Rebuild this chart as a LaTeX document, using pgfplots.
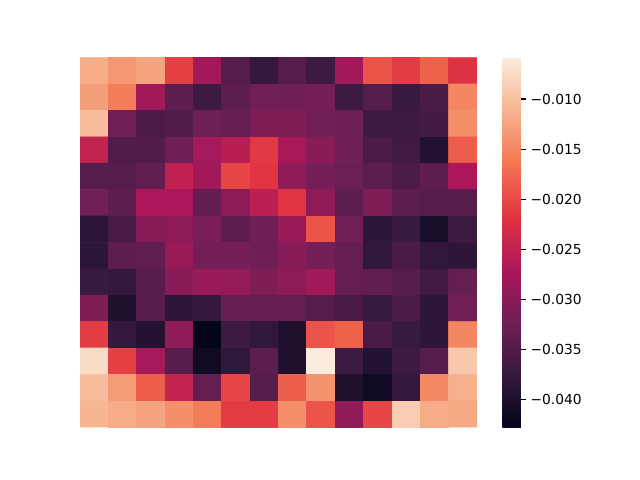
\documentclass[border=0pt]{standalone}
\usepackage{fontspec}
\setmainfont{DejaVu Sans}
\usepackage{pgfplots}
\pgfplotsset{compat=1.18}
\begin{document}
\begin{tikzpicture}
\path[use as bounding box] (0,0) rectangle (6.4in,4.8in);
\begin{axis}[
  at={(0.8in,0.528in)}, anchor=south west,
  scale only axis, width=3.968in, height=3.696in,
  hide axis, xmin=-0.5, xmax=13.5, ymin=-0.5, ymax=13.5, y dir=reverse,
  enlargelimits=false,
  colormap={rocket}{rgb255=(3,5,26) rgb255=(53,25,62) rgb255=(112,31,87) rgb255=(173,23,89) rgb255=(225,51,66) rgb255=(243,118,81) rgb255=(246,180,143) rgb255=(250,235,221)},
  point meta min=-0.04274, point meta max=-0.00587,
  colorbar,
  colorbar style={
    at={(parent axis.right of north east)}, anchor=north west,
    xshift=0.138in, width=0.184in, height=3.696in,
    hide axis=false,
    axis line style={draw=none},
    scaled y ticks=false,
    ytick={-0.040,-0.035,-0.030,-0.025,-0.020,-0.015,-0.010},
    yticklabels={−0.040,−0.035,−0.030,−0.025,−0.020,−0.015,−0.010},
    yticklabel style={font=\fontsize{10}{12}\selectfont},
    ytick pos=right, yticklabel pos=right,
    tick align=outside, major tick length=3.5pt,
    ytick style={black, line width=0.8pt},
  },
]
\addplot[matrix plot*, mesh/cols=14, point meta=explicit] table[meta=c, row sep=\\]{
x y c\\
0 0 -0.0118\\ 1 0 -0.0136\\ 2 0 -0.0125\\ 3 0 -0.0206\\ 4 0 -0.0280\\ 5 0 -0.0346\\ 6 0 -0.0376\\ 7 0 -0.0346\\ 8 0 -0.0368\\ 9 0 -0.0280\\ 10 0 -0.0191\\ 11 0 -0.0210\\ 12 0 -0.0180\\ 13 0 -0.0221\\
0 1 -0.0129\\ 1 1 -0.0158\\ 2 1 -0.0280\\ 3 1 -0.0339\\ 4 1 -0.0368\\ 5 1 -0.0339\\ 6 1 -0.0320\\ 7 1 -0.0324\\ 8 1 -0.0317\\ 9 1 -0.0368\\ 10 1 -0.0346\\ 11 1 -0.0372\\ 12 1 -0.0357\\ 13 1 -0.0151\\
0 2 -0.0103\\ 1 2 -0.0320\\ 2 2 -0.0354\\ 3 2 -0.0350\\ 4 2 -0.0324\\ 5 2 -0.0332\\ 6 2 -0.0309\\ 7 2 -0.0309\\ 8 2 -0.0320\\ 9 2 -0.0324\\ 10 2 -0.0368\\ 11 2 -0.0368\\ 12 2 -0.0361\\ 13 2 -0.0143\\
0 3 -0.0247\\ 1 3 -0.0350\\ 2 3 -0.0350\\ 3 3 -0.0324\\ 4 3 -0.0276\\ 5 3 -0.0258\\ 6 3 -0.0213\\ 7 3 -0.0272\\ 8 3 -0.0302\\ 9 3 -0.0324\\ 10 3 -0.0354\\ 11 3 -0.0365\\ 12 3 -0.0394\\ 13 3 -0.0184\\
0 4 -0.0346\\ 1 4 -0.0346\\ 2 4 -0.0335\\ 3 4 -0.0250\\ 4 4 -0.0280\\ 5 4 -0.0202\\ 6 4 -0.0217\\ 7 4 -0.0295\\ 8 4 -0.0317\\ 9 4 -0.0328\\ 10 4 -0.0342\\ 11 4 -0.0354\\ 12 4 -0.0339\\ 13 4 -0.0269\\
0 5 -0.0320\\ 1 5 -0.0339\\ 2 5 -0.0269\\ 3 5 -0.0269\\ 4 5 -0.0335\\ 5 5 -0.0298\\ 6 5 -0.0254\\ 7 5 -0.0217\\ 8 5 -0.0295\\ 9 5 -0.0339\\ 10 5 -0.0309\\ 11 5 -0.0339\\ 12 5 -0.0346\\ 13 5 -0.0346\\
0 6 -0.0383\\ 1 6 -0.0357\\ 2 6 -0.0302\\ 3 6 -0.0298\\ 4 6 -0.0313\\ 5 6 -0.0339\\ 6 6 -0.0324\\ 7 6 -0.0287\\ 8 6 -0.0191\\ 9 6 -0.0320\\ 10 6 -0.0383\\ 11 6 -0.0372\\ 12 6 -0.0405\\ 13 6 -0.0368\\
0 7 -0.0383\\ 1 7 -0.0339\\ 2 7 -0.0335\\ 3 7 -0.0287\\ 4 7 -0.0320\\ 5 7 -0.0317\\ 6 7 -0.0324\\ 7 7 -0.0302\\ 8 7 -0.0317\\ 9 7 -0.0332\\ 10 7 -0.0379\\ 11 7 -0.0357\\ 12 7 -0.0379\\ 13 7 -0.0383\\
0 8 -0.0372\\ 1 8 -0.0376\\ 2 8 -0.0346\\ 3 8 -0.0302\\ 4 8 -0.0287\\ 5 8 -0.0291\\ 6 8 -0.0309\\ 7 8 -0.0298\\ 8 8 -0.0280\\ 9 8 -0.0332\\ 10 8 -0.0335\\ 11 8 -0.0346\\ 12 8 -0.0365\\ 13 8 -0.0332\\
0 9 -0.0309\\ 1 9 -0.0398\\ 2 9 -0.0346\\ 3 9 -0.0383\\ 4 9 -0.0376\\ 5 9 -0.0332\\ 6 9 -0.0332\\ 7 9 -0.0332\\ 8 9 -0.0346\\ 9 9 -0.0357\\ 10 9 -0.0372\\ 11 9 -0.0354\\ 12 9 -0.0383\\ 13 9 -0.0320\\
0 10 -0.0210\\ 1 10 -0.0376\\ 2 10 -0.0394\\ 3 10 -0.0295\\ 4 10 -0.0427\\ 5 10 -0.0368\\ 6 10 -0.0379\\ 7 10 -0.0398\\ 8 10 -0.0191\\ 9 10 -0.0180\\ 10 10 -0.0357\\ 11 10 -0.0372\\ 12 10 -0.0383\\ 13 10 -0.0151\\
0 11 -0.0073\\ 1 11 -0.0206\\ 2 11 -0.0276\\ 3 11 -0.0346\\ 4 11 -0.0413\\ 5 11 -0.0379\\ 6 11 -0.0339\\ 7 11 -0.0398\\ 8 11 -0.0059\\ 9 11 -0.0368\\ 10 11 -0.0394\\ 11 11 -0.0368\\ 12 11 -0.0346\\ 13 11 -0.0092\\
0 12 -0.0103\\ 1 12 -0.0132\\ 2 12 -0.0184\\ 3 12 -0.0247\\ 4 12 -0.0332\\ 5 12 -0.0202\\ 6 12 -0.0346\\ 7 12 -0.0184\\ 8 12 -0.0140\\ 9 12 -0.0398\\ 10 12 -0.0413\\ 11 12 -0.0376\\ 12 12 -0.0147\\ 13 12 -0.0114\\
0 13 -0.0110\\ 1 13 -0.0118\\ 2 13 -0.0125\\ 3 13 -0.0143\\ 4 13 -0.0158\\ 5 13 -0.0210\\ 6 13 -0.0210\\ 7 13 -0.0143\\ 8 13 -0.0191\\ 9 13 -0.0295\\ 10 13 -0.0202\\ 11 13 -0.0088\\ 12 13 -0.0118\\ 13 13 -0.0121\\
};
\end{axis}
\end{tikzpicture}
\end{document}
